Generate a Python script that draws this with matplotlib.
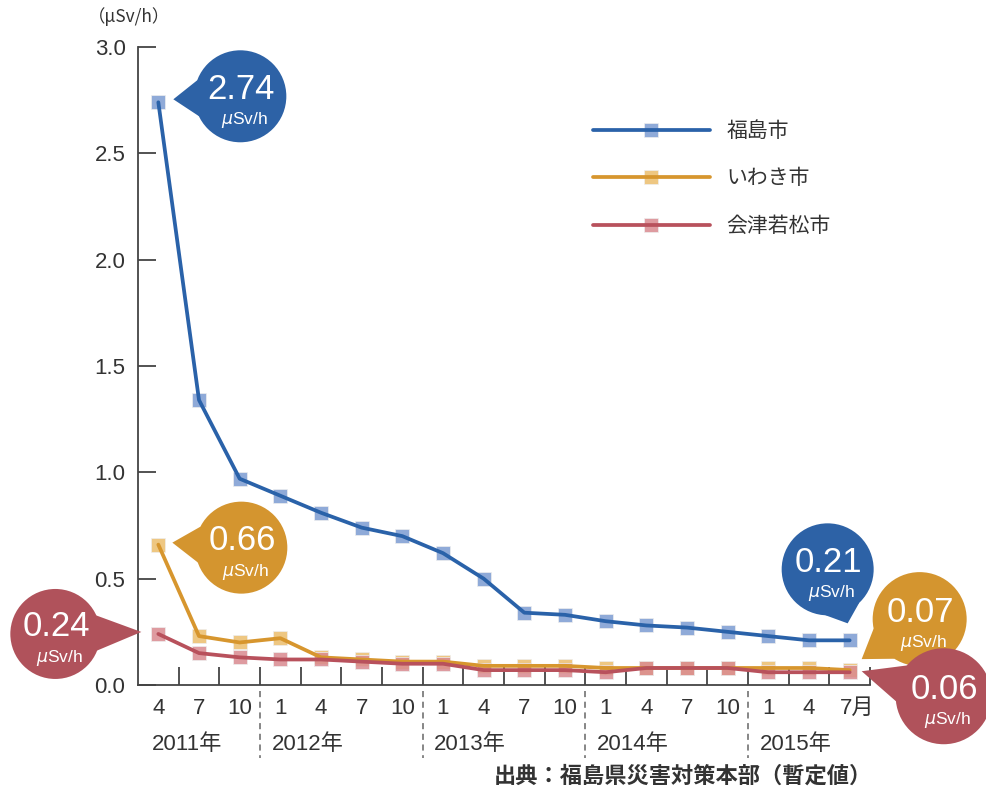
import numpy as np
import matplotlib.pyplot as plt
import matplotlib.transforms as mtransforms
from matplotlib.patches import Circle, Polygon
from matplotlib.legend_handler import HandlerTuple

plt.rcParams['font.family'] = ['Liberation Sans', 'Noto Sans CJK JP']
plt.rcParams['mathtext.fontset'] = 'dejavusans'

# data (air dose rate, uSv/h)
months = ['4', '7', '10', '1', '4', '7', '10', '1', '4', '7', '10',
          '1', '4', '7', '10', '1', '4', '7月']
years = ['2011年', '2012年', '2013年', '2014年', '2015年']
year_start = [0, 3, 7, 11, 15]
fukushima = [2.74, 1.34, 0.97, 0.89, 0.81, 0.74, 0.70, 0.62, 0.50, 0.34, 0.33,
             0.30, 0.28, 0.27, 0.25, 0.23, 0.21, 0.21]
iwaki = [0.66, 0.23, 0.20, 0.22, 0.13, 0.12, 0.11, 0.11, 0.09, 0.09, 0.09,
         0.08, 0.08, 0.08, 0.08, 0.08, 0.08, 0.07]
aizu = [0.24, 0.15, 0.13, 0.12, 0.12, 0.11, 0.10, 0.10, 0.07, 0.07, 0.07,
        0.06, 0.08, 0.08, 0.08, 0.06, 0.06, 0.06]
names = ['福島市', 'いわき市', '会津若松市']

line_colors = ['#2a62a9', '#d7962e', '#b8515c']
marker_colors = ['#7b9bd2', '#ecbd6c', '#d98a90']
bubble_colors = ['#2d62a6', '#d4952f', '#b0525b']

fig = plt.figure(figsize=(9.87, 7.92), dpi=100)
ax = fig.add_axes([138 / 987, 107 / 792, 732 / 987, 638 / 792])

x = np.arange(len(months))
handles = []
for vals, lc, mc, nm in zip([fukushima, iwaki, aizu], line_colors, marker_colors, names):
    mk, = ax.plot(x, vals, ls='none', marker='s', ms=10, mfc=mc, mec='#eeeeee',
                  mew=0.6, alpha=0.85, zorder=2, clip_on=False)
    ln, = ax.plot(x, vals, color=lc, lw=2.7, zorder=3, clip_on=False,
                  solid_capstyle='round')
    handles.append((mk, ln))

ax.set_xlim(-0.5, 17.5)
ax.set_ylim(0, 3.0)
ax.set_yticks([0, 0.5, 1.0, 1.5, 2.0, 2.5, 3.0])
ax.set_yticklabels(['0.0', '0.5', '1.0', '1.5', '2.0', '2.5', '3.0'])
ax.set_xticks(np.arange(0.5, 18, 1))
ax.set_xticklabels([])
ax.set_xticks(x, minor=True)
ax.set_xticklabels(months, minor=True)

for s in ['top', 'right']:
    ax.spines[s].set_visible(False)
for s in ['left', 'bottom']:
    ax.spines[s].set_color('#444444')
    ax.spines[s].set_linewidth(1.3)
ax.tick_params(axis='both', which='major', direction='in', length=13, width=1.3,
               color='#444444', labelcolor='#333333', labelsize=16, pad=9)
ax.tick_params(axis='x', which='minor', length=0, labelsize=16, labelcolor='#333333', pad=9)

last = ax.get_xticklabels(minor=True)[-1]
last.set_horizontalalignment('left')
last.set_transform(last.get_transform() + mtransforms.ScaledTranslation(-10 / 100, 0, fig.dpi_scale_trans))

# year separators and labels
trans = mtransforms.blended_transform_factory(ax.transData, ax.transAxes)
for i, (yr, st) in enumerate(zip(years, year_start)):
    if i > 0:
        ax.plot([st - 0.5, st - 0.5], [-0.01, -0.115], transform=trans, color='#666666',
                lw=1.1, ls=(0, (4, 3)), clip_on=False)
        ax.text(st - 0.22, -0.094, yr, transform=trans, ha='left', va='center',
                fontsize=16, color='#333333')
    else:
        ax.text(st - 0.15, -0.094, yr, transform=trans, ha='left', va='center',
                fontsize=16, color='#333333')

fig.text(88 / 987, 1 - 17 / 792, '（μSv/h）', ha='left', va='center',
         fontsize=12.5, color='#333333', family=['Noto Sans CJK JP'])
fig.text(872 / 987, 1 - 776 / 792, '出典：福島県災害対策本部（暫定値）', ha='right',
         va='center', fontsize=16, fontweight='bold', color='#333333',
         family=['Noto Sans CJK JP'])

leg = ax.legend(handles, names, handler_map={tuple: HandlerTuple(ndivide=1, pad=0)},
                loc='upper left', bbox_to_anchor=(593 / 987, 1 - 121 / 792),
                bbox_transform=fig.transFigure, frameon=False, borderpad=0,
                borderaxespad=0, handlelength=5.6, handletextpad=0.8,
                labelspacing=1.35, fontsize=15)
for t in leg.get_texts():
    t.set_color('#333333')

# callout bubbles drawn in pixel space
ov = fig.add_axes([0, 0, 1, 1], zorder=5)
ov.set_xlim(0, 987)
ov.set_ylim(0, 792)
ov.axis('off')


def callout(xi, yi, center_off, tip_off, color, value, r=46):
    px, py = ax.transData.transform((xi, yi))
    cx, cy = px + center_off[0], py + center_off[1]
    tx, ty = px + tip_off[0], py + tip_off[1]
    a = np.arctan2(ty - cy, tx - cx)
    b1 = (cx + r * np.cos(a + 0.4), cy + r * np.sin(a + 0.4))
    b2 = (cx + r * np.cos(a - 0.4), cy + r * np.sin(a - 0.4))
    ov.add_patch(Polygon([(tx, ty), b1, (cx, cy), b2], closed=True, fc=color, ec='none'))
    ov.add_patch(Circle((cx, cy), r, fc=color, ec='none'))
    ov.text(cx + 1, cy + 7, value, ha='center', va='center', color='white', fontsize=25)
    ov.text(cx + 4, cy - 24, '$\\mu$Sv/h', ha='center', va='center', color='white', fontsize=12.5)


n = len(months) - 1
callout(0, fukushima[0], (82, 6), (15, 3), bubble_colors[0], f'{fukushima[0]:.2f}')
callout(0, iwaki[0], (83, -3), (14, 2), bubble_colors[1], f'{iwaki[0]:.2f}')
callout(0, aizu[0], (-103, 0), (-17, 2), bubble_colors[2], f'{aizu[0]:.2f}', r=45)
callout(n, fukushima[n], (-22, 71), (-2, 17), bubble_colors[0], f'{fukushima[n]:.2f}')
callout(n, iwaki[n], (70, 51), (12, 11), bubble_colors[1], f'{iwaki[n]:.2f}', r=47)
callout(n, aizu[n], (94, -24), (12, 1), bubble_colors[2], f'{aizu[n]:.2f}', r=48)

fig.savefig('out.png', dpi=100)
